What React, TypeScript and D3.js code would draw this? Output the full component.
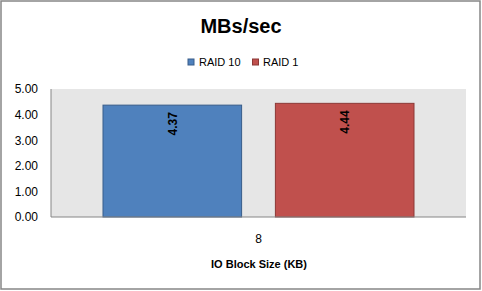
import React from "react";
import * as d3 from "d3";

const categories = ["8"];
const seriesNames = ["RAID 10", "RAID 1"];
const seriesColors = ["#4f81bd", "#c0504d"];
const seriesStroke = ["#385d8a", "#8c3836"];
const raid10 = [4.37];
const raid1 = [4.44];
const yTicks = [0, 1, 2, 3, 4, 5];

const W = 482;
const H = 291;
const plot = { left: 51, right: 466, top: 89, bottom: 217 };
const FONT = "'Liberation Sans', Arial, sans-serif";

export default function App() {
  const values = [raid10, raid1];
  const x0 = d3.scaleBand<string>().domain(categories).range([plot.left, plot.right]).paddingInner(0).paddingOuter(0);
  const y = d3.scaleLinear().domain([0, 5]).range([plot.bottom, plot.top]);
  const bw = x0.bandwidth();
  const x1 = d3
    .scaleBand<string>()
    .domain(seriesNames)
    .range([bw * 0.1253, bw * (1 - 0.1253)])
    .paddingInner(0.196)
    .paddingOuter(0);

  return (
    <svg
      width={W}
      height={H}
      style={{ position: "absolute", left: 0, top: 0, display: "block" }}
      fontFamily={FONT}
    >
      <rect x={0} y={0} width={W} height={H} fill="#ffffff" />
      <rect x={1} y={1} width={479} height={288} fill="#ffffff" stroke="#868686" strokeWidth={1.5} />
      <text x={241} y={33} textAnchor="middle" fontSize={20} fontWeight="bold" fill="#000">
        MBs/sec
      </text>
      {/* legend */}
      <g>
        <rect x={188} y={59} width={6} height={6} fill={seriesColors[0]} stroke={seriesStroke[0]} strokeWidth={1} />
        <text x={199} y={66} fontSize={11} fill="#000">{seriesNames[0]}</text>
        <rect x={252.5} y={59} width={6} height={6} fill={seriesColors[1]} stroke={seriesStroke[1]} strokeWidth={1} />
        <text x={263} y={66} fontSize={11} fill="#000">{seriesNames[1]}</text>
      </g>
      {/* plot area */}
      <rect
        x={plot.left}
        y={plot.top}
        width={plot.right - plot.left}
        height={plot.bottom - plot.top}
        fill="#e6e6e6"
      />
      {categories.map((c, ci) => (
        <g key={c} transform={`translate(${x0(c)},0)`}>
          {seriesNames.map((s, si) => {
            const v = values[si][ci];
            const bx = x1(s)!;
            const by = y(v);
            return (
              <g key={s}>
                <rect
                  x={bx}
                  y={by}
                  width={x1.bandwidth()}
                  height={y(0) - by}
                  fill={seriesColors[si]}
                  stroke={seriesStroke[si]}
                  strokeWidth={1}
                />
                <text
                  transform={`translate(${bx + x1.bandwidth() / 2 + 4.5},${by + 7}) rotate(-90)`}
                  textAnchor="end"
                  fontSize={12}
                  fontWeight="bold"
                  fill="#000"
                >
                  {v.toFixed(2)}
                </text>
              </g>
            );
          })}
        </g>
      ))}
      {/* axes */}
      <line x1={plot.left} x2={plot.left} y1={plot.top} y2={plot.bottom} stroke="#868686" strokeWidth={1} />
      <line x1={plot.left} x2={plot.right} y1={plot.bottom} y2={plot.bottom} stroke="#868686" strokeWidth={1} />
      {yTicks.map((t) => (
        <text key={t} x={38} y={y(t)} dy="0.36em" textAnchor="end" fontSize={12} fill="#000">
          {t.toFixed(2)}
        </text>
      ))}
      {categories.map((c) => (
        <text key={c} x={x0(c)! + bw / 2} y={243} textAnchor="middle" fontSize={12} fill="#000">
          {c}
        </text>
      ))}
      <text x={259} y={268} textAnchor="middle" fontSize={11} fontWeight="bold" fill="#000">
        IO Block Size (KB)
      </text>
    </svg>
  );
}
